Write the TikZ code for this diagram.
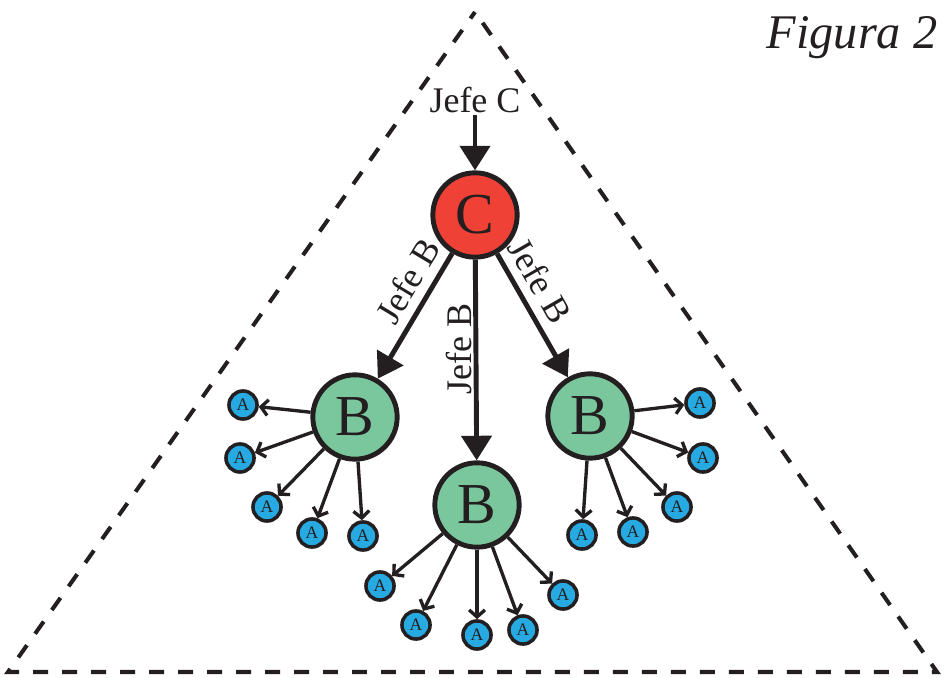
\documentclass[tikz,border=0pt]{standalone}
\usepackage{xcolor}
\usepackage{fontspec}
\setmainfont{Liberation Serif}
\usepackage{tikz}
\usetikzlibrary{arrows.meta, positioning, calc}
\definecolor{jefered}{HTML}{EF4136}
\definecolor{jefegreen}{HTML}{7AC79E}
\definecolor{ablue}{HTML}{27AAE1}
\definecolor{ink}{HTML}{231F20}

\begin{document}
\begin{tikzpicture}[x=0.02cm, y=-0.02cm,
    bignode/.style={circle, draw=ink, line width=2.8pt, minimum size=48pt, inner sep=0pt, text=ink, font=\fontsize{33}{33}\selectfont},
    anode/.style={circle, draw=ink, line width=2pt, fill=ablue, minimum size=16pt, inner sep=0pt, text=ink, font=\fontsize{10}{10}\selectfont},
    boss/.style={draw=ink, line width=2.8pt, -{Triangle[length=14pt, width=17pt]}},
    sub/.style={draw=ink, line width=1.9pt, -{Straight Barb[length=4pt, width=9pt]}},
    lab/.style={text=ink, inner sep=1pt, font=\fontsize{20.5}{20.5}\selectfont}]
  \useasboundingbox (0,0) rectangle (949,678);
  % Triangle
  \coordinate (top) at (475,12);
  \coordinate (left) at (8,672);
  \coordinate (right) at (937,672);
  \draw[ink, line width=2.3pt, dash pattern=on 8.5pt off 8pt, dash phase=4pt, line join=miter] (top) -- (left) -- (right) -- cycle;
  % Title
  \node[text=ink, font=\fontsize{27.5}{27.5}\itshape\selectfont] (title) at (852,38) {Figura 2};
  % Jefe C
  \node[lab] (jefeC) at (475,100) {Jefe C};
  \node[bignode, fill=jefered] (c) at (475,215) {C};
  \draw[boss] (jefeC) -- (c);
  % Jefes B
  \node[bignode, fill=jefegreen] (bl) at (355,417) {B};
  \node[bignode, fill=jefegreen] (bm) at (477,505) {B};
  \node[bignode, fill=jefegreen] (br) at (590,416) {B};
  \draw[boss] (c) -- node[lab, pos=0.4, rotate=59, above=8pt] (labL) {Jefe B} (bl);
  \draw[boss] (c) -- node[lab, pos=0.5, rotate=90, above=6pt] (labM) {Jefe B} (bm);
  \draw[boss] (c) -- node[lab, pos=0.4, rotate=-60, above=8pt] (labR) {Jefe B} (br);
  % A nodes
  \foreach \pt [count=\i] in {{243,405},{240,458},{267,507},{312,533},{363,536}} {
    \node[anode] (al\i) at (\pt) {A};
    \draw[sub] (bl) -- (al\i);
  }
  \foreach \pt [count=\i] in {{380,586},{416,625},{477,635},{523,630},{563,595}} {
    \node[anode] (am\i) at (\pt) {A};
    \draw[sub] (bm) -- (am\i);
  }
  \foreach \pt [count=\i] in {{700,403},{703,458},{677,507},{633,532},{582,535}} {
    \node[anode] (ar\i) at (\pt) {A};
    \draw[sub] (br) -- (ar\i);
  }
\end{tikzpicture}
\end{document}
